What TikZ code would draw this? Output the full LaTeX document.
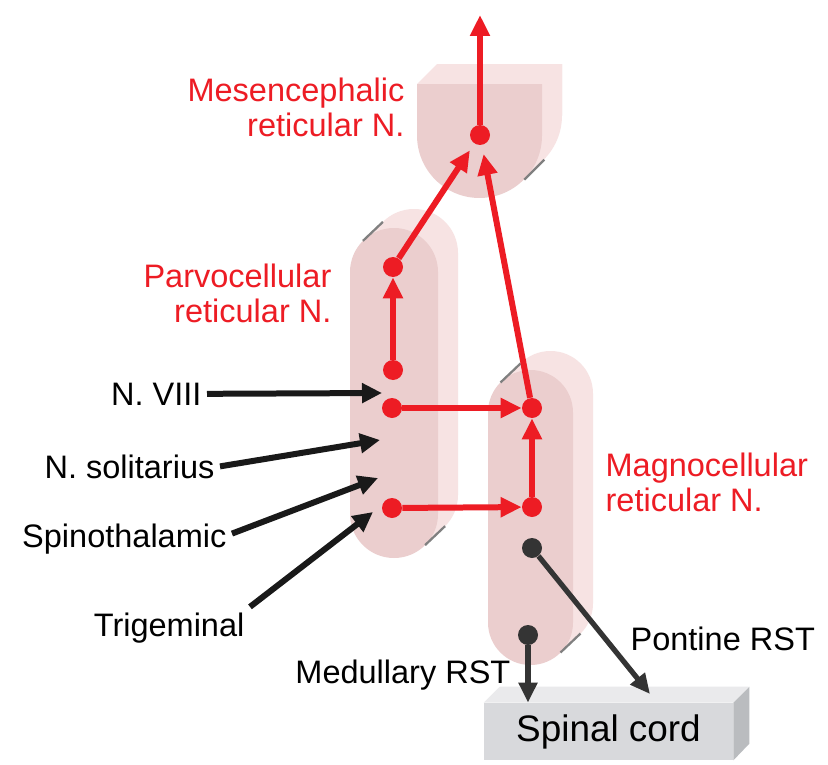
\documentclass[tikz,border=0pt]{standalone}
\usepackage{fontspec}
\setmainfont{Liberation Sans}
\usepackage{xcolor}
\usepackage{tikz}
\usetikzlibrary{positioning, arrows.meta, calc}

\definecolor{rfred}{RGB}{237,28,36}
\definecolor{rfgray}{RGB}{52,52,52}
\definecolor{nucfront}{RGB}{235,206,206}
\definecolor{nucside}{RGB}{247,227,227}
\definecolor{cordfront}{RGB}{216,217,220}
\definecolor{cordtop}{RGB}{234,234,236}
\definecolor{cordside}{RGB}{186,188,191}

\begin{document}
\begin{tikzpicture}[
    x=0.02cm, y=-0.02cm,
    every node/.style={font=\fontsize{18.5}{19.9}\selectfont},
    nuc_front/.style={fill=nucfront},
    nuc_side/.style={fill=nucside},
    edge_dark/.style={draw=black!50, line width=0.045cm},
    red_dot/.style={circle, fill=rfred, minimum size=0.4cm, inner sep=0pt},
    gray_dot/.style={red_dot, fill=rfgray},
    red_lbl/.style={text=rfred, inner sep=3pt},
    in_lbl/.style={text=black, inner sep=3pt},
    red_flow/.style={-{Triangle[length=0.42cm, width=0.38cm]}, line width=0.12cm, draw=rfred},
    in_flow/.style={-{Triangle[length=0.4cm, width=0.38cm]}, line width=0.12cm, draw=black!90},
    out_flow/.style={-{Triangle[length=0.4cm, width=0.36cm]}, line width=0.105cm, draw=rfgray},
    cord_box/.style={fill=cordfront, minimum width=4.98cm, minimum height=1.14cm, inner sep=0pt, font=\fontsize{21}{24}\selectfont},
]
    \useasboundingbox (0,0) rectangle (828,764);
    \fill[white] (0,0) rectangle (828,764);

    % 1. Mesencephalic block
    \fill[nuc_side] (437,64) -- (562,64) -- (562,115.5) arc[start angle=0, end angle=-180, radius=1.25cm] -- cycle;
    \fill[nuc_side] (417,84) -- (437,64) -- (562,64) -- (562,115.5) -- (544.2,159.7) -- (524.2,179.7) -- (542,135.5) -- (542,84) -- cycle;
    \fill[nuc_front] (417,84) -- (542,84) -- (542,135.5) arc[start angle=0, end angle=-180, radius=1.25cm] -- cycle;
    \draw[edge_dark] (524.2,179.7) -- (544.2,159.7);

    % 2. Parvocellular column
    \fill[nuc_side, rounded corners=0.88cm] (370,209) rectangle (458,539);
    \fill[nuc_side] (362.9,240.9) -- (382.9,221.9) -- (445.1,526.1) -- (425.1,545.1) -- cycle;
    \fill[nuc_front, rounded corners=0.88cm] (350,228) rectangle (438,558);
    \draw[edge_dark] (362.9,240.9) -- (382.9,221.9);
    \draw[edge_dark] (425.1,545.1) -- (445.1,526.1);

    % 3. Magnocellular column
    \fill[nuc_side, rounded corners=0.85cm] (508,351) rectangle (593,646);
    \fill[nuc_side] (500.5,382.5) -- (520.5,363.5) -- (580.5,633.5) -- (560.5,652.5) -- cycle;
    \fill[nuc_front, rounded corners=0.85cm] (488,370) rectangle (573,665);
    \draw[edge_dark] (500.5,382.5) -- (520.5,363.5);
    \draw[edge_dark] (560.5,652.5) -- (580.5,633.5);

    % 4. Spinal cord block
    \node[cord_box] (cord) at (608.5,731.5) {Spinal cord};
    \fill[cordtop] (cord.north west) -- ++(16,-16) -- ++(249,0) -- (cord.north east) -- cycle;
    \fill[cordside] (cord.north east) -- ++(16,-16) -- ++(0,57) -- (cord.south east) -- cycle;

    % --- Labels ---
    \node[red_lbl, align=right, anchor=east] (mes_lbl) at (410,107.6) {Mesencephalic\\reticular N.};
    \node[red_lbl, align=right, anchor=east] (parvo_lbl) at (337,293.6) {Parvocellular\\reticular N.};
    \node[red_lbl, align=left, anchor=west] (magno_lbl) at (600,482.6) {Magnocellular\\reticular N.};
    \node[in_lbl, anchor=base east] (viii_lbl) at (207,405) {N. VIII};
    \node[in_lbl, anchor=base east] (sol_lbl) at (220,478) {N. solitarius};
    \node[in_lbl, anchor=base east] (spino_lbl) at (232,547) {Spinothalamic};
    \node[in_lbl, anchor=base east] (trig_lbl) at (250,636) {Trigeminal};
    \node[in_lbl, anchor=base east] (med_lbl) at (516,683) {Medullary RST};
    \node[in_lbl, anchor=base west] (pont_lbl) at (625,650) {Pontine RST};

    % --- Nuclei ---
    \node[red_dot] (mes_dot) at (480,135) {};
    \node[red_dot] (parvo_top) at (393,267) {};
    \node[red_dot] (parvo_low) at (393,370) {};
    \node[red_dot] (parvo_viii) at (392,408) {};
    \node[red_dot] (parvo_spino) at (392,508) {};
    \node[red_dot] (magno_top) at (532,408) {};
    \node[red_dot] (magno_low) at (532,507) {};
    \node[gray_dot] (pont_dot) at (532,548) {};
    \node[gray_dot] (med_dot) at (528,635) {};

    % --- Connections ---

    % Ascending output
    \coordinate (mes_out) at (480,15);
    \draw[red_flow] (mes_dot) -- (mes_out);
    \draw[red_flow, shorten >=0.16cm] (parvo_top) -- (mes_dot);
    \draw[red_flow, shorten >=0.18cm] (magno_top) -- (mes_dot);

    % Parvocellular to magnocellular
    \draw[red_flow] (parvo_low) -- (parvo_top);
    \draw[red_flow] (parvo_viii) -- (magno_top);
    \draw[red_flow] (parvo_spino) -- (magno_low);
    \draw[red_flow] (magno_low) -- (magno_top);

    % Inputs
    \coordinate (viii_in) at (382,393);
    \coordinate (sol_in) at (380,440);
    \coordinate (spino_in) at (378,478);
    \coordinate (trig_in) at (373,512);
    \draw[in_flow] (viii_lbl.east) -- (viii_in);
    \draw[in_flow] (sol_lbl.east) -- (sol_in);
    \draw[in_flow] ([yshift=0.1cm]spino_lbl.east) -- (spino_in);
    \draw[in_flow] (trig_lbl.north east) -- (trig_in);

    % Reticulospinal tracts
    \coordinate (pont_end) at (650,694);
    \draw[out_flow] (pont_dot) -- (pont_end);
    \draw[out_flow] (med_dot) -- (med_dot |- cord.north);

\end{tikzpicture}
\end{document}
